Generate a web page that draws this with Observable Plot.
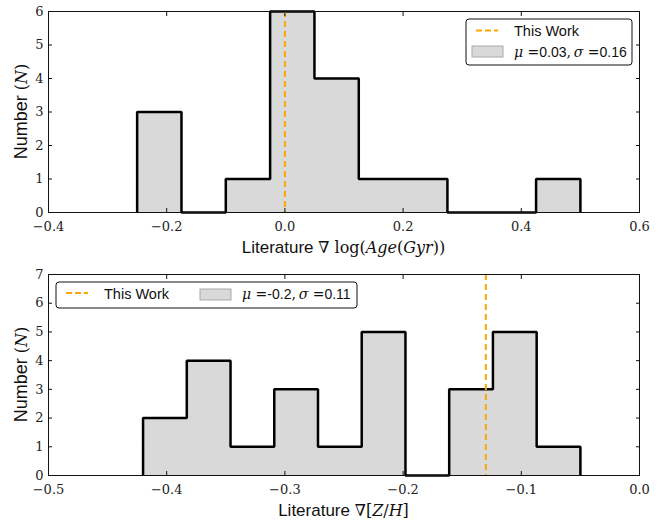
<!DOCTYPE html>
<html><head><meta charset="utf-8">
<script src="https://cdn.jsdelivr.net/npm/d3@7"></script>
<script src="https://cdn.jsdelivr.net/npm/@observablehq/plot@0.6"></script>
<style>
body{margin:0;background:#fff;}
#wrap{width:670px;}
#wrap svg{display:block;}
</style></head><body><div id="wrap"></div>
<script>
// ---- Top panel: literature age gradient ----
const ageEdges = [-0.25, -0.175, -0.1, -0.025, 0.05, 0.125, 0.2, 0.275, 0.35, 0.425, 0.5];
const ageCounts = [3, 0, 1, 6, 4, 1, 1, 0, 0, 1];
const ageThisWork = 0.0;
const ageXDomain = [-0.4, 0.6];
const ageYDomain = [0, 6];
const ageXTicks = [-0.4, -0.2, 0.0, 0.2, 0.4, 0.6];
const ageYTicks = [0, 1, 2, 3, 4, 5, 6];
const ageStats = {mu: "0.03", sigma: "0.16"};

// ---- Bottom panel: literature metallicity gradient ----
const zhEdges = [-0.42, -0.383, -0.346, -0.309, -0.272, -0.235, -0.198, -0.161, -0.124, -0.087, -0.05];
const zhCounts = [2, 4, 1, 3, 1, 5, 0, 3, 5, 1];
const zhThisWork = -0.13;
const zhXDomain = [-0.5, 0.0];
const zhYDomain = [0, 7];
const zhXTicks = [-0.5, -0.4, -0.3, -0.2, -0.1, 0.0];
const zhYTicks = [0, 1, 2, 3, 4, 5, 6, 7];
const zhStats = {mu: "-0.2", sigma: "0.11"};

const legendLabel = "This Work";

const SANS = "Liberation Sans";
const SERIF = "DejaVu Serif";
const FILL = "#d9d9d9";
const ORANGE = "#ffa500";

function histChart({edges, counts, thisWork, xDomain, yDomain, xTicks, yTicks, height, marginTop, marginBottom}) {
  const bins = counts.map((c, i) => ({x1: edges[i], x2: edges[i + 1], y: c}));
  const outline = [{x: edges[0], y: 0}, ...counts.map((c, i) => ({x: edges[i], y: c})), {x: edges[edges.length - 1], y: 0}];
  const fmt = d3.format(".1f");
  const tickText = {fontSize: 13, fill: "#222", label: null, tickSize: 0};
  const svg = Plot.plot({
    width: 670,
    height,
    marginLeft: 48,
    marginRight: 31,
    marginTop,
    marginBottom,
    x: {domain: xDomain},
    y: {domain: yDomain},
    marks: [
      Plot.rectY(bins, {x1: "x1", x2: "x2", y: "y", fill: FILL, stroke: FILL, strokeWidth: 1}),
      Plot.line(outline, {x: "x", y: "y", curve: "step-after", stroke: "black", strokeWidth: 2.5, strokeLinejoin: "miter", strokeLinecap: "butt"}),
      Plot.ruleX([thisWork], {stroke: ORANGE, strokeWidth: 2, strokeDasharray: "6,4"}),
      Plot.frame({stroke: "#111", strokeWidth: 1}),
      Plot.axisX(xTicks, {anchor: "bottom", tickSize: -4, fill: "none", stroke: "#111", label: null}),
      Plot.axisX(xTicks, {anchor: "top", tickSize: -4, fill: "none", stroke: "#111", label: null}),
      Plot.axisY(yTicks, {anchor: "left", tickSize: -4, fill: "none", stroke: "#111", label: null}),
      Plot.axisY(yTicks, {anchor: "right", tickSize: -4, fill: "none", stroke: "#111", label: null}),
      Plot.axisX(xTicks, {...tickText, anchor: "bottom", tickPadding: 9, tickFormat: fmt}),
      Plot.axisY(yTicks, {...tickText, anchor: "left", tickPadding: 5, tickFormat: "d"})
    ]
  });
  // serif tick labels (matplotlib mathtext look)
  d3.select(svg).selectAll("text").style("font-family", `"${SERIF}", serif`).style("font-size", "13px");
  return svg;
}

function addYLabel(svg, cy) {
  const t = d3.select(svg).append("text")
    .attr("transform", `translate(26.5,${cy}) rotate(-90)`)
    .attr("text-anchor", "middle")
    .attr("fill", "#111");
  t.append("tspan").attr("font-family", SANS).attr("font-size", 18).text("Number ");
  t.append("tspan").attr("font-family", SERIF).attr("font-size", 16).text("(");
  t.append("tspan").attr("font-family", SERIF).attr("font-size", 16).attr("font-style", "italic").text("N");
  t.append("tspan").attr("font-family", SERIF).attr("font-size", 16).text(")");
}

function addXLabel(svg, y, parts) {
  const t = d3.select(svg).append("text")
    .attr("x", 343.5).attr("y", y)
    .attr("text-anchor", "middle")
    .attr("fill", "#111");
  t.append("tspan").attr("font-family", SANS).attr("font-size", 17).text("Literature ");
  for (const [s, italic] of parts) {
    t.append("tspan").attr("font-family", SERIF).attr("font-size", 16)
      .attr("font-style", italic ? "italic" : "normal").text(s);
  }
}

function statsText(g, x, y, stats) {
  const t = g.append("text").attr("x", x).attr("y", y).attr("fill", "#111").attr("font-size", 14)
    .attr("text-anchor", "start");
  t.append("tspan").attr("font-family", SERIF).attr("font-style", "italic").text("μ");
  t.append("tspan").attr("font-family", SERIF).text(" =");
  t.append("tspan").attr("font-family", SANS).text(stats.mu);
  t.append("tspan").attr("font-family", SERIF).text(",\u2009");
  t.append("tspan").attr("font-family", SERIF).attr("font-style", "italic").text("σ");
  t.append("tspan").attr("font-family", SERIF).text(" =");
  t.append("tspan").attr("font-family", SANS).text(stats.sigma);
}

function legend(svg, box, dash, label, patch, stats) {
  const g = d3.select(svg).append("g").attr("text-anchor", "start");
  g.append("rect").attr("x", box[0]).attr("y", box[1]).attr("width", box[2]).attr("height", box[3]).attr("rx", 3)
    .attr("fill", "#fff").attr("stroke", "#111").attr("stroke-width", 1);
  g.append("line").attr("x1", dash[0]).attr("x2", dash[1]).attr("y1", dash[2]).attr("y2", dash[2])
    .attr("stroke", ORANGE).attr("stroke-width", 2).attr("stroke-dasharray", "6,3");
  g.append("text").attr("x", label[0]).attr("y", label[1]).attr("text-anchor", "start")
    .attr("font-family", SANS).attr("font-size", 14.5).attr("fill", "#111").text(legendLabel);
  g.append("rect").attr("x", patch[0]).attr("y", patch[1]).attr("width", 31).attr("height", 11)
    .attr("fill", FILL).attr("stroke", "#aaa").attr("stroke-width", 1);
  statsText(g, patch[2], patch[3], stats);
}

const wrap = document.getElementById("wrap");

// Top chart
const ageSvg = histChart({edges: ageEdges, counts: ageCounts, thisWork: ageThisWork, xDomain: ageXDomain, yDomain: ageYDomain,
  xTicks: ageXTicks, yTicks: ageYTicks, height: 258, marginTop: 11, marginBottom: 46});
wrap.appendChild(ageSvg);
addYLabel(ageSvg, 111.5);
addXLabel(ageSvg, 253, [["∇ ", false], ["log(", false], ["Age", true], ["(", false], ["Gyr", true], ["))", false]]);
legend(ageSvg, [466, 19, 166, 46], [476, 498, 30.5], [514, 35.5], [472, 46, 514, 57], ageStats);

// Bottom chart
const zhSvg = histChart({edges: zhEdges, counts: zhCounts, thisWork: zhThisWork, xDomain: zhXDomain, yDomain: zhYDomain,
  xTicks: zhXTicks, yTicks: zhYTicks, height: 265, marginTop: 16, marginBottom: 48});
wrap.appendChild(zhSvg);
addYLabel(zhSvg, 116.5);
addXLabel(zhSvg, 258, [["∇[", false], ["Z", true], ["/", false], ["H", true], ["]", false]]);
legend(zhSvg, [56, 24, 301, 26], [66, 88, 35], [104, 41], [200, 31, 242, 41], zhStats);
</script>
</body></html>
